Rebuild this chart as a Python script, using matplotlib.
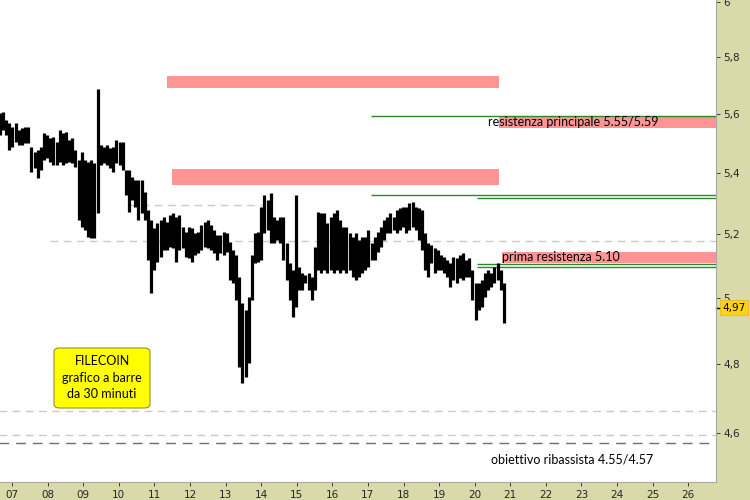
import numpy as np
import matplotlib
matplotlib.use('Agg')
import matplotlib.pyplot as plt
import matplotlib.transforms as mtransforms
from matplotlib.patches import Rectangle, FancyBboxPatch
from matplotlib.ticker import FixedLocator, FixedFormatter, NullLocator

# FILECOIN, barre a 30 minuti (raggruppate), prima e ultima barra in giorni del mese
first_day = 6.66
last_day = 20.82

high = [5.603, 5.606, 5.579, 5.569, 5.555, 5.569, 5.545, 5.552, 5.555, 5.555,
        5.487, 5.470, 5.477, 5.487, 5.535, 5.528, 5.518, 5.521, 5.504, 5.545,
        5.535, 5.538, 5.511, 5.518, 5.477, 5.443, 5.470, 5.443, 5.437, 5.443,
        5.433, 5.687, 5.494, 5.487, 5.494, 5.484, 5.487, 5.511, 5.504, 5.504,
        5.410, 5.410, 5.386, 5.376, 5.376, 5.376, 5.337, 5.278, 5.245, 5.219,
        5.235, 5.245, 5.255, 5.239, 5.262, 5.268, 5.255, 5.262, 5.223, 5.207,
        5.223, 5.219, 5.203, 5.207, 5.229, 5.239, 5.245, 5.229, 5.213, 5.197,
        5.197, 5.207, 5.203, 5.175, 5.149, 5.133, 5.064, 4.984, 4.962, 5.002,
        5.133, 5.203, 5.207, 5.288, 5.327, 5.311, 5.334, 5.255, 5.245, 5.255,
        5.255, 5.171, 5.108, 5.086, 5.327, 5.095, 5.077, 5.070, 5.077, 5.064,
        5.159, 5.271, 5.268, 5.268, 5.235, 5.255, 5.268, 5.278, 5.245, 5.223,
        5.223, 5.203, 5.191, 5.203, 5.181, 5.191, 5.191, 5.213, 5.171, 5.191,
        5.207, 5.223, 5.245, 5.255, 5.268, 5.255, 5.278, 5.284, 5.288, 5.288,
        5.301, 5.304, 5.288, 5.284, 5.278, 5.203, 5.171, 5.165, 5.155, 5.149,
        5.133, 5.127, 5.118, 5.108, 5.127, 5.124, 5.133, 5.140, 5.118, 5.124,
        5.086, 5.046, 5.046, 5.055, 5.077, 5.086, 5.077, 5.095, 5.108, 5.086,
        5.046]
low = [5.528, 5.545, 5.528, 5.477, 5.487, 5.504, 5.494, 5.494, 5.501, 5.501,
       5.403, 5.417, 5.383, 5.410, 5.443, 5.450, 5.437, 5.427, 5.427, 5.437,
       5.427, 5.433, 5.437, 5.433, 5.420, 5.245, 5.222, 5.213, 5.190, 5.187,
       5.187, 5.268, 5.427, 5.433, 5.427, 5.417, 5.403, 5.433, 5.427, 5.410,
       5.327, 5.271, 5.311, 5.288, 5.245, 5.268, 5.245, 5.118, 5.015, 5.086,
       5.112, 5.127, 5.149, 5.149, 5.159, 5.155, 5.112, 5.149, 5.155, 5.127,
       5.124, 5.112, 5.133, 5.140, 5.149, 5.159, 5.155, 5.149, 5.140, 5.118,
       5.140, 5.133, 5.143, 5.055, 5.046, 4.993, 4.791, 4.744, 4.762, 4.803,
       4.993, 5.108, 5.112, 5.118, 5.203, 5.213, 5.171, 5.171, 5.181, 5.171,
       5.118, 5.055, 4.993, 4.941, 4.971, 5.024, 5.024, 5.046, 5.024, 4.993,
       5.024, 5.086, 5.077, 5.086, 5.077, 5.086, 5.077, 5.086, 5.077, 5.086,
       5.077, 5.086, 5.064, 5.055, 5.064, 5.077, 5.086, 5.095, 5.118, 5.118,
       5.143, 5.159, 5.181, 5.203, 5.203, 5.213, 5.203, 5.213, 5.223, 5.203,
       5.213, 5.223, 5.213, 5.181, 5.149, 5.086, 5.064, 5.108, 5.077, 5.086,
       5.086, 5.077, 5.064, 5.033, 5.055, 5.046, 5.061, 5.055, 5.064, 5.064,
       4.993, 4.932, 4.962, 4.971, 5.002, 5.024, 5.033, 5.046, 5.055, 5.024,
       4.923]
last_price = 4.97

day_ticks = list(range(7, 27))
day_labels = ['%02d' % d for d in day_ticks]
price_ticks = [4.6, 4.8, 5.0, 5.2, 5.4, 5.6, 5.8, 6.0]
price_labels = ['4,6', '4,8', '5', '5,2', '5,4', '5,6', '5,8', '6']

# zone di resistenza (giorno inizio, giorno fine, prezzo basso, prezzo alto)
zones = [(11.35, 20.68, 5.691, 5.733),
         (11.49, 20.68, 5.360, 5.413),
         (20.68, 26.8, 5.552, 5.590),
         (20.76, 26.8, 5.108, 5.143)]
# livelli verdi (prezzo, giorno inizio)
green_levels = [(5.593, 17.08), (5.327, 17.08), (5.317, 20.06), (5.105, 20.06), (5.096, 20.06)]
# livelli tratteggiati (prezzo, giorno inizio, giorno fine)
gray_levels = [(5.295, 10.26, 14.02), (5.179, 8.07, 26.8), (4.663, 6.6, 26.8), (4.594, 6.6, 26.8)]
target_level = 4.572

panel = '#DAD9A9'
pink = '#FF9494'
green = '#2A8A2A'

fig = plt.figure(figsize=(7.5, 5), dpi=100, facecolor=panel)
ax = fig.add_axes([0, 18 / 500, 716 / 750, 482 / 500])
ax.set_facecolor('white')
ax.set_yscale('log')
ax.set_xlim(6.663, 26.78)
ax.set_ylim(4.463, 6.008)

for x0, x1, y0, y1 in zones:
    ax.add_patch(Rectangle((x0, y0), x1 - x0, y1 - y0, facecolor=pink, edgecolor='none', zorder=1))

for y, x0 in green_levels:
    ax.hlines(y, x0, 26.8, color=green, linewidth=1, zorder=2)

for y, x0, x1 in gray_levels:
    ln, = ax.plot([x0, x1], [y, y], color='#CACACA', linewidth=1, zorder=1)
    ln.set_dashes((5.5, 4))
ln, = ax.plot([6.6, 26.8], [target_level, target_level], color='#6E6E6E', linewidth=1, zorder=1)
ln.set_dashes((7, 5))

days = np.linspace(first_day, last_day, len(high))
ax.vlines(days, low, high, color='black', linewidth=2.3, zorder=3)

txt = dict(family=['Lato', 'DejaVu Sans'], fontsize=9, color='black', zorder=4)
ax.text(20.37, 5.571, 'resistenza principale 5.55/5.59', va='center', ha='left', **txt)
ax.text(20.76, 5.126, 'prima resistenza 5.10', va='center', ha='left', **txt)
ax.text(22.73, 4.524, 'obiettivo ribassista 4.55/4.57', va='center', ha='center', **txt)

box = FancyBboxPatch((0.0754, 0.1535), 0.1341, 0.1245, transform=ax.transAxes,
                     boxstyle='round,pad=0,rounding_size=0.008', facecolor='#FFFF00',
                     edgecolor='#9C8E2A', linewidth=0.8, zorder=5)
ax.add_patch(box)
ax.text(0.1425, 0.216, 'FILECOIN\ngrafico a barre\nda 30 minuti', transform=ax.transAxes,
        ha='center', va='center', linespacing=1.45, **dict(txt, zorder=6))

ax.yaxis.tick_right()
ax.yaxis.set_major_locator(FixedLocator(price_ticks))
ax.yaxis.set_major_formatter(FixedFormatter(price_labels))
ax.yaxis.set_minor_locator(NullLocator())
ax.set_xticks(day_ticks)
ax.set_xticklabels(day_labels)
ax.tick_params(axis='both', labelsize=7.5, colors='#262626', length=3, width=0.6)
ax.tick_params(axis='y', pad=2)
ax.tick_params(axis='x', pad=3)
for s in ['top', 'left']:
    ax.spines[s].set_visible(False)
for s in ['right', 'bottom']:
    ax.spines[s].set_color('#A8A8A8')
    ax.spines[s].set_linewidth(0.8)

blend = mtransforms.blended_transform_factory(ax.transAxes, ax.transData)
ax.plot([1.0, 1.006], [last_price, last_price], transform=blend, color='black', lw=1, clip_on=False)
ax.text(1.009, last_price, '4,97', transform=blend, va='center', ha='left', fontsize=7.5,
        color='black', bbox=dict(boxstyle='square,pad=0.2', facecolor='#FFD21A', edgecolor='#E8B800', linewidth=0.5))

fig.savefig('out.png', dpi=100, facecolor=panel)
